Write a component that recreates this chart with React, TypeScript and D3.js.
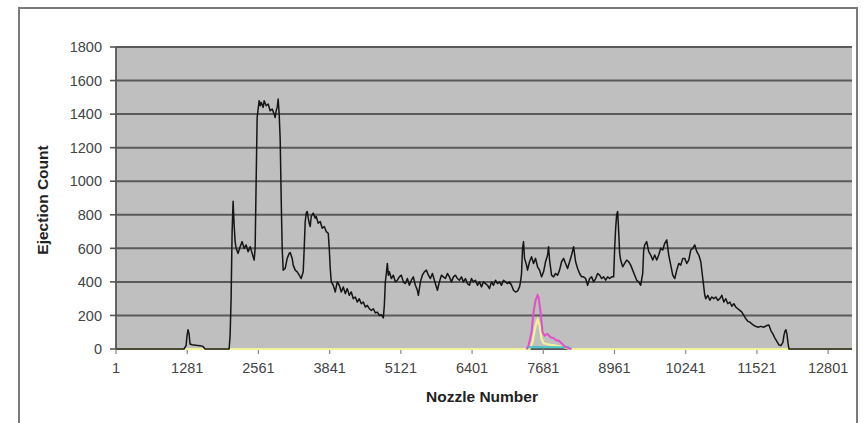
import React from 'react'
import * as d3 from 'd3'

// nozzle number, ejection count
const blackSeries: [number, number][] = [
  [1, 0], [1224, 0], [1260, 20], [1278, 80], [1296, 115], [1314, 90], [1332, 30], [1368, 25],
  [1440, 22], [1512, 20], [1566, 15], [1602, 0], [2034, 0], [2052, 80], [2070, 300], [2088, 700],
  [2106, 880], [2124, 740], [2142, 640], [2160, 600], [2196, 570], [2232, 610], [2268, 640],
  [2304, 600], [2340, 620], [2376, 580], [2412, 610], [2448, 570], [2484, 530], [2502, 600],
  [2520, 1000], [2538, 1380], [2556, 1430], [2574, 1480], [2592, 1450], [2610, 1470], [2646, 1440],
  [2664, 1480], [2700, 1450], [2736, 1460], [2772, 1420], [2808, 1430], [2844, 1400], [2862, 1380],
  [2880, 1420], [2898, 1440], [2916, 1490], [2934, 1400], [2952, 1250], [2970, 900], [2988, 600],
  [3006, 470], [3042, 480], [3078, 540], [3114, 570], [3132, 575], [3168, 540], [3186, 500],
  [3222, 470], [3258, 460], [3294, 440], [3330, 420], [3366, 460], [3384, 600], [3402, 760],
  [3420, 810], [3438, 820], [3456, 780], [3474, 750], [3492, 730], [3510, 790], [3546, 810],
  [3582, 780], [3600, 790], [3636, 750], [3672, 760], [3708, 720], [3744, 730], [3780, 700],
  [3816, 690], [3834, 600], [3852, 480], [3870, 400], [3906, 380], [3942, 340], [3978, 400],
  [4014, 380], [4050, 340], [4086, 370], [4122, 330], [4158, 360], [4194, 320], [4230, 340],
  [4266, 300], [4302, 310], [4338, 280], [4374, 300], [4410, 270], [4446, 280], [4482, 250],
  [4518, 260], [4554, 240], [4590, 230], [4626, 240], [4662, 215], [4698, 220], [4734, 200],
  [4770, 205], [4806, 185], [4824, 260], [4842, 400], [4860, 450], [4878, 510], [4896, 440],
  [4914, 460], [4950, 420], [4986, 440], [5022, 400], [5058, 410], [5094, 430], [5130, 440],
  [5166, 400], [5202, 390], [5238, 420], [5274, 380], [5310, 410], [5346, 430], [5382, 380],
  [5418, 350], [5436, 320], [5472, 400], [5508, 440], [5544, 460], [5580, 470], [5616, 440],
  [5652, 420], [5688, 450], [5724, 410], [5760, 370], [5778, 350], [5814, 400], [5850, 440],
  [5886, 430], [5922, 420], [5958, 450], [5994, 430], [6030, 400], [6066, 430], [6102, 440],
  [6138, 420], [6174, 410], [6210, 430], [6246, 400], [6282, 420], [6318, 390], [6354, 380],
  [6390, 420], [6426, 400], [6462, 410], [6498, 380], [6534, 400], [6570, 370], [6606, 400],
  [6642, 390], [6678, 380], [6714, 360], [6750, 400], [6786, 380], [6822, 410], [6858, 390],
  [6894, 400], [6930, 380], [6966, 410], [7002, 400], [7038, 390], [7074, 400], [7110, 380],
  [7146, 350], [7182, 340], [7218, 345], [7254, 370], [7272, 400], [7290, 450], [7308, 600],
  [7326, 640], [7344, 540], [7380, 500], [7398, 470], [7434, 520], [7470, 550], [7506, 510],
  [7542, 540], [7578, 490], [7614, 470], [7650, 430], [7686, 460], [7722, 520], [7758, 560],
  [7776, 610], [7794, 530], [7830, 440], [7866, 430], [7902, 450], [7938, 440], [7974, 470],
  [8010, 520], [8046, 540], [8082, 510], [8118, 480], [8154, 520], [8190, 560], [8226, 610],
  [8262, 520], [8298, 480], [8334, 450], [8370, 430], [8406, 430], [8442, 420], [8478, 380],
  [8514, 420], [8550, 430], [8586, 400], [8622, 420], [8658, 450], [8694, 440], [8730, 420],
  [8766, 430], [8802, 410], [8838, 430], [8874, 420], [8910, 430], [8946, 430], [8964, 600],
  [8982, 720], [9000, 800], [9018, 820], [9036, 700], [9054, 570], [9072, 530], [9108, 490],
  [9144, 510], [9180, 530], [9216, 520], [9252, 500], [9288, 470], [9324, 440], [9360, 410],
  [9396, 400], [9432, 380], [9468, 450], [9486, 590], [9504, 620], [9540, 640], [9576, 580],
  [9612, 560], [9648, 530], [9684, 560], [9720, 530], [9756, 560], [9792, 600], [9828, 590],
  [9864, 630], [9900, 650], [9936, 560], [9972, 500], [10008, 440], [10044, 420], [10080, 470],
  [10116, 510], [10152, 500], [10188, 540], [10224, 540], [10260, 510], [10296, 530], [10332, 590],
  [10368, 600], [10404, 620], [10440, 580], [10476, 560], [10512, 520], [10548, 420], [10584, 320],
  [10602, 300], [10638, 320], [10674, 290], [10710, 310], [10746, 300], [10782, 310], [10818, 290],
  [10854, 300], [10890, 320], [10926, 280], [10962, 300], [10998, 270], [11034, 280], [11070, 255],
  [11106, 270], [11142, 250], [11178, 240], [11214, 230], [11250, 220], [11286, 200], [11322, 180],
  [11358, 165], [11394, 160], [11430, 150], [11466, 140], [11502, 135], [11538, 130], [11592, 135],
  [11646, 130], [11700, 140], [11736, 143], [11772, 110], [11808, 90], [11844, 65], [11880, 45],
  [11916, 25], [11952, 20], [11988, 40], [12006, 80], [12024, 105], [12042, 115], [12060, 90],
  [12078, 40], [12096, 0], [13230, 0],
]

const yellowSeries: [number, number][] = [
  [1, 0], [7434, 0], [7488, 40], [7524, 110], [7560, 160], [7578, 175], [7614, 140], [7650, 60],
  [7686, 35], [7740, 30], [7812, 25], [7902, 20], [7992, 15], [8082, 8], [8154, 0], [13230, 0],
]

const magentaSeries: [number, number][] = [
  [7380, 0], [7416, 20], [7470, 100], [7506, 220], [7542, 290], [7578, 320], [7596, 310],
  [7632, 220], [7668, 100], [7704, 80], [7758, 90], [7812, 70], [7866, 65], [7920, 50],
  [7956, 50], [8010, 35], [8064, 15], [8136, 5], [8190, 0],
]

const cyanSeries: [number, number][] = [
  [7380, 0], [7416, 10], [7560, 12], [7700, 10], [7900, 10], [8136, 10], [8172, 0],
]

const yTicks = [0, 200, 400, 600, 800, 1000, 1200, 1400, 1600, 1800]
const xTicks = [1, 1281, 2561, 3841, 5121, 6401, 7681, 8961, 10241, 11521, 12801]

export default function App() {
  const left = 116, right = 852, top = 47, bottom = 349
  const x = d3.scaleLinear().domain([1, 13230]).range([left, right])
  const y = d3.scaleLinear().domain([0, 1800]).range([bottom, top])
  const line = d3.line<[number, number]>().x(d => x(d[0])).y(d => y(d[1]))
  const font = 'Arial, "Liberation Sans", sans-serif'

  return (
    <svg width={867} height={423} style={{ position: 'absolute', left: 0, top: 0, background: '#fff' }}>
      <rect x={19} y={8} width={838} height={430} fill="#fff" stroke="#7a7a7a" strokeWidth={2} />
      <rect x={left} y={top} width={right - left} height={bottom - top} fill="#bfbfbf" />
      {yTicks.map(t => (
        <g key={t}>
          <line x1={left} x2={right} y1={y(t)} y2={y(t)} stroke="#5a5a5a" strokeWidth={2} />
          <line x1={left - 6} x2={left} y1={y(t)} y2={y(t)} stroke="#555" strokeWidth={1.6} />
          <text x={102} y={y(t)} dy="0.36em" textAnchor="end" fontFamily={font} fontSize={14.5} fill="#444">{t}</text>
        </g>
      ))}
      <line x1={left} x2={left} y1={top} y2={bottom} stroke="#555" strokeWidth={1.8} />
      {xTicks.map(t => (
        <g key={t}>
          <line x1={x(t)} x2={x(t)} y1={bottom} y2={bottom + 5} stroke="#888" strokeWidth={1.2} />
          <text x={x(t)} y={373} textAnchor="middle" fontFamily={font} fontSize={14.5} fill="#444">{t}</text>
        </g>
      ))}
      <path d={line(yellowSeries) || ''} fill="none" stroke="#f2f29a" strokeWidth={2.2} />
      <path d={line(cyanSeries) || ''} fill="none" stroke="#4cc4c4" strokeWidth={2} />
      <path d={line(magentaSeries) || ''} fill="none" stroke="#e050c8" strokeWidth={2} />
      <path d={line(blackSeries) || ''} fill="none" stroke="#151515" strokeWidth={1.5} strokeLinejoin="round" />
      <text x={482} y={402} textAnchor="middle" fontFamily={font} fontSize={15.5} fontWeight="bold" fill="#222">Nozzle Number</text>
      <text transform="translate(48,200) rotate(-90)" textAnchor="middle" fontFamily={font} fontSize={15.5} fontWeight="bold" fill="#222">Ejection Count</text>
    </svg>
  )
}
